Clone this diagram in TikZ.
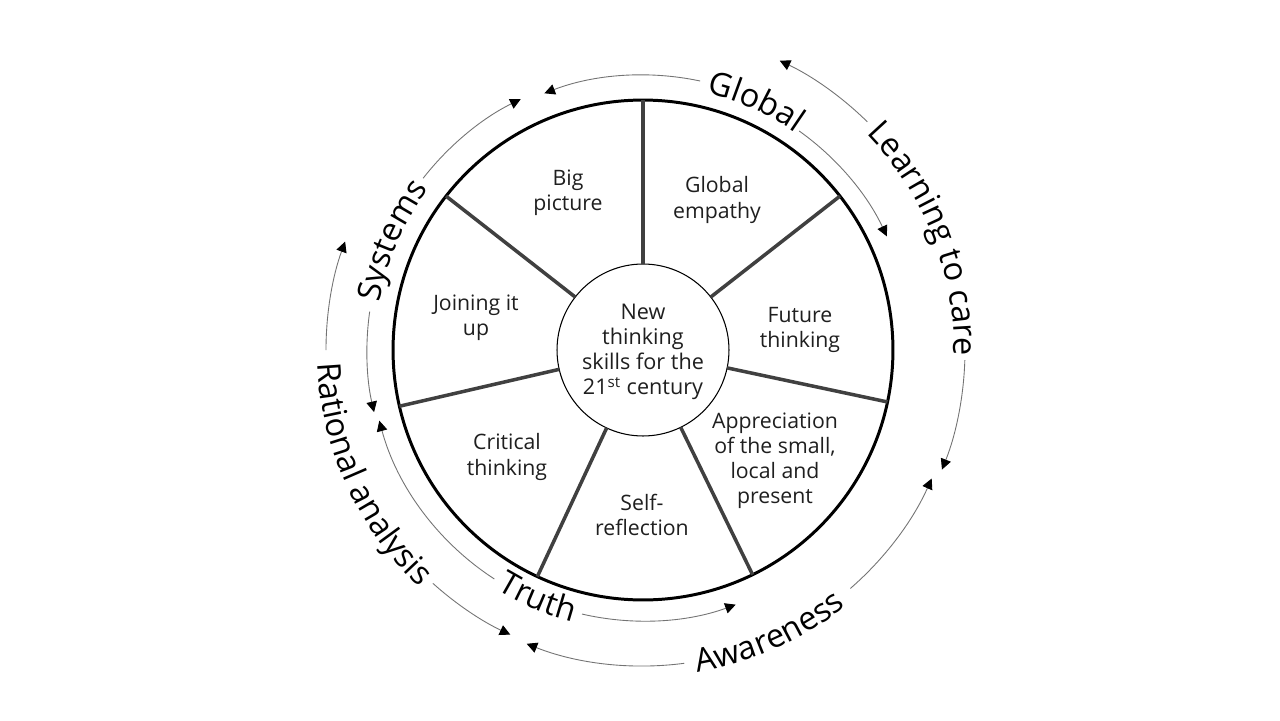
\documentclass[tikz,border=0pt]{standalone}
\usepackage{fontspec}
\setmainfont{Open Sans}
\usetikzlibrary{arrows.meta,decorations.text}
\newcommand\lblfont{\fontsize{18.5}{22}\selectfont}
\begin{document}
\begin{tikzpicture}[x=0.02cm,y=0.02cm,
  seg/.style={font=\fontsize{12.1}{14.3}\selectfont, align=center, text=black!88, inner sep=0pt},
  spoke/.style={line width=2pt, draw=black!75},
  conn/.style={draw=black!55, line width=0.5pt, -{Triangle[length=6pt,width=6pt,color=black]}},
  curved/.style={decorate, decoration={text along path, text align=center, text={|\lblfont|#1}}},
]
\useasboundingbox (-643,-370) rectangle (637,350);
\fill[white] (-643,-370) rectangle (637,350);

% rim and hub
\node[circle, draw=black, line width=1.7pt, minimum size=10cm, outer sep=0pt, inner sep=0pt] (rim) at (0,0) {};
\node[circle, draw=black, line width=0.6pt, fill=white, minimum size=3.44cm, outer sep=0pt, inner sep=0pt] (hub) at (0,0) {};
\node[font=\fontsize{12.3}{14.3}\selectfont, align=center, text=black!88, inner sep=0pt] (hubtext) at (0,-2)
      {New\\thinking\\skills for the\\21\textsuperscript{st} century};

% spokes
\foreach \k in {0,...,6}{
  \pgfmathsetmacro\a{90-\k*360/7}
  \draw[spoke] (hub.\a) -- (rim.\a);
}

% segment texts
\node[seg] (bigpic) at (-75,157) {Big\\picture};
\node[seg] (glemp) at (74,150) {Global\\empathy};
\node[seg] (future) at (157,20) {Future\\thinking};
\node[seg] (apprec) at (132,-111) {Appreciation\\of the small,\\local and\\present};
\node[seg] (selfref) at (-1,-165) {Self-\\reflection};
\node[seg] (critical) at (-136,-107) {Critical\\thinking};
\node[seg] (joining) at (-167,32) {Joining it\\up};

% curved labels
\path[curved=Global] (95:265) arc[start angle=95, end angle=36, radius=265];
\path[curved=Systems] (186.5:268) arc[start angle=186.5, end angle=126.5, radius=268];
\path[curved=Learning to care] (51.5:311) arc[start angle=51.5, end angle=-8.5, radius=311];
\path[curved=Rational analysis] (174.5:326) arc[start angle=174.5, end angle=234.5, radius=326];
\path[curved=Truth] (222:281) arc[start angle=222, end angle=272, radius=281];
\path[curved=Awareness] (-96:327) arc[start angle=-96, end angle=-36, radius=327];

% connector start points
\coordinate (a1) at (78:275);
\coordinate (a2) at (142:279);
\coordinate (a3) at (54.5:269);
\coordinate (a4) at (172:276);
\coordinate (a5) at (237:273);
\coordinate (a6) at (257:271);
\coordinate (b1) at (45.5:320);
\coordinate (b2) at (-1.8:322);
\coordinate (b3) at (-49:316);
\coordinate (b4) at (-82.5:316);
\coordinate (b5) at (-132:314);
\coordinate (b6) at (180:317);

\draw[conn] (a1) arc[start angle=78, end angle=111, radius=275];
\draw[conn] (a2) arc[start angle=142, end angle=116, radius=279];
\draw[conn] (a3) arc[start angle=54.5, end angle=25, radius=269];
\draw[conn] (a4) arc[start angle=172, end angle=193, radius=276];
\draw[conn] (a5) arc[start angle=237, end angle=195, radius=273];
\draw[conn] (a6) arc[start angle=257, end angle=290, radius=271];
\draw[conn] (b1) arc[start angle=45.5, end angle=64.7, radius=320];
\draw[conn] (b2) arc[start angle=-1.8, end angle=-21.8, radius=322];
\draw[conn] (b3) arc[start angle=-49, end angle=-24, radius=316];
\draw[conn] (b4) arc[start angle=-82.5, end angle=-111.6, radius=316];
\draw[conn] (b5) arc[start angle=-132, end angle=-115, radius=314];
\draw[conn] (b6) arc[start angle=180, end angle=160, radius=317];
\end{tikzpicture}
\end{document}
